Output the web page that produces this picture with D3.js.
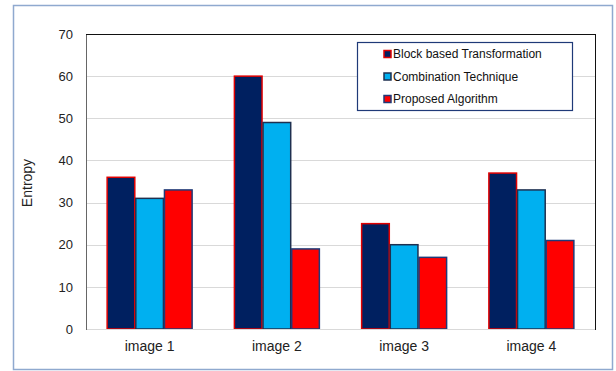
<!DOCTYPE html>
<html>
<head>
<meta charset="utf-8">
<script src="https://cdn.jsdelivr.net/npm/d3@7"></script>
<style>
  html, body { margin: 0; padding: 0; background: #fff; }
  svg { display: block; font-family: "Liberation Sans", Arial, sans-serif; }
</style>
</head>
<body>
<svg id="chart" width="616" height="371"></svg>
<script>
// Entropy per test image for each method
const categories = ["image 1", "image 2", "image 3", "image 4"];
const seriesNames = ["Block based Transformation", "Combination Technique", "Proposed Algorithm"];
const blockBased = [36, 60, 25, 37];
const combination = [31, 49, 20, 33];
const proposed = [33, 19, 17, 21];
const yTicks = [0, 10, 20, 30, 40, 50, 60, 70];

const seriesValues = [blockBased, combination, proposed];
const fills = ["#002060", "#00b0f0", "#ff0000"];
const strokes = ["#e00000", "#1f3050", "#1f3a78"];

const svg = d3.select("#chart");
const plot = { left: 86, right: 595, top: 34, bottom: 329 };

// outer chart frame
svg.append("rect")
  .attr("x", 13.5).attr("y", 5.5)
  .attr("width", 599).attr("height", 364)
  .attr("fill", "#fff")
  .attr("stroke", "#8fa9cf").attr("stroke-width", 1.5);

const x = d3.scaleBand().domain(categories).range([plot.left, plot.right]).paddingInner(0).paddingOuter(0);
const xInner = d3.scaleBand().domain(d3.range(seriesNames.length))
  .range([0, x.bandwidth()]).paddingInner(0).paddingOuter(0.72);
const y = d3.scaleLinear().domain([0, 70]).range([plot.bottom, plot.top]);

// gridlines
svg.append("g").selectAll("line").data(yTicks.filter(t => t > 0 && t < 70)).join("line")
  .attr("x1", plot.left).attr("x2", plot.right)
  .attr("y1", d => Math.round(y(d)) + 0.5).attr("y2", d => Math.round(y(d)) + 0.5)
  .attr("stroke", "#d9d9d9").attr("stroke-width", 1);

// bars
const groups = svg.append("g").selectAll("g").data(categories).join("g")
  .attr("transform", c => `translate(${x(c)},0)`);
groups.selectAll("rect")
  .data((c, i) => seriesValues.map((vals, s) => ({ s, v: vals[i] })))
  .join("rect")
  .attr("x", d => xInner(d.s) + 0.5)
  .attr("y", d => y(d.v))
  .attr("width", xInner.bandwidth() - 1)
  .attr("height", d => y(0) - y(d.v))
  .attr("fill", d => fills[d.s])
  .attr("stroke", d => strokes[d.s])
  .attr("stroke-width", 1.5);

// plot frame: light baseline, dark sides and top
svg.append("line").attr("x1", plot.left).attr("x2", plot.right)
  .attr("y1", plot.bottom + 0.5).attr("y2", plot.bottom + 0.5)
  .attr("stroke", "#d9d9d9");
svg.append("line").attr("x1", plot.left + 0.5).attr("x2", plot.left + 0.5)
  .attr("y1", plot.top).attr("y2", plot.bottom + 1)
  .attr("stroke", "#666");
svg.append("line").attr("x1", plot.left).attr("x2", plot.right + 1)
  .attr("y1", plot.top + 0.5).attr("y2", plot.top + 0.5)
  .attr("stroke", "#111");
svg.append("line").attr("x1", plot.right + 0.5).attr("x2", plot.right + 0.5)
  .attr("y1", plot.top).attr("y2", plot.bottom + 1)
  .attr("stroke", "#111");

// y axis labels
const yAxis = d3.axisLeft(y).tickValues(yTicks).tickSize(0).tickPadding(13);
const gy = svg.append("g").attr("transform", `translate(${plot.left},0)`).call(yAxis);
gy.select(".domain").remove();
gy.selectAll("text").attr("font-size", 13).attr("fill", "#222")
  .attr("font-family", "Liberation Sans, Arial, sans-serif");

// x axis labels
const xAxis = d3.axisBottom(x).tickSize(0).tickPadding(12);
const gx = svg.append("g").attr("transform", `translate(0,${plot.bottom})`).call(xAxis);
gx.select(".domain").remove();
gx.selectAll("text").attr("font-size", 14).attr("fill", "#222")
  .attr("font-family", "Liberation Sans, Arial, sans-serif");

// y axis title
svg.append("text")
  .attr("transform", "translate(32,183) rotate(-90)")
  .attr("text-anchor", "middle")
  .attr("font-size", 14).attr("fill", "#222")
  .text("Entropy");

// legend
const legend = svg.append("g");
legend.append("rect")
  .attr("x", 357.5).attr("y", 42.5).attr("width", 215).attr("height", 68)
  .attr("fill", "#fff").attr("stroke", "#1f3a78").attr("stroke-width", 1.2);
const legendY = d3.scalePoint().domain(seriesNames).range([54, 99]);
const items = legend.selectAll("g.item").data(seriesNames).join("g").attr("class", "item")
  .attr("transform", d => `translate(0,${legendY(d)})`);
items.append("rect")
  .attr("x", 384).attr("y", -3.5).attr("width", 7).attr("height", 7)
  .attr("fill", (d, i) => fills[i])
  .attr("stroke", (d, i) => strokes[i]).attr("stroke-width", 1.5);
items.append("text")
  .attr("x", 393).attr("y", 0).attr("dy", "0.35em")
  .attr("font-size", 12).attr("fill", "#111")
  .text(d => d);
</script>
</body>
</html>
